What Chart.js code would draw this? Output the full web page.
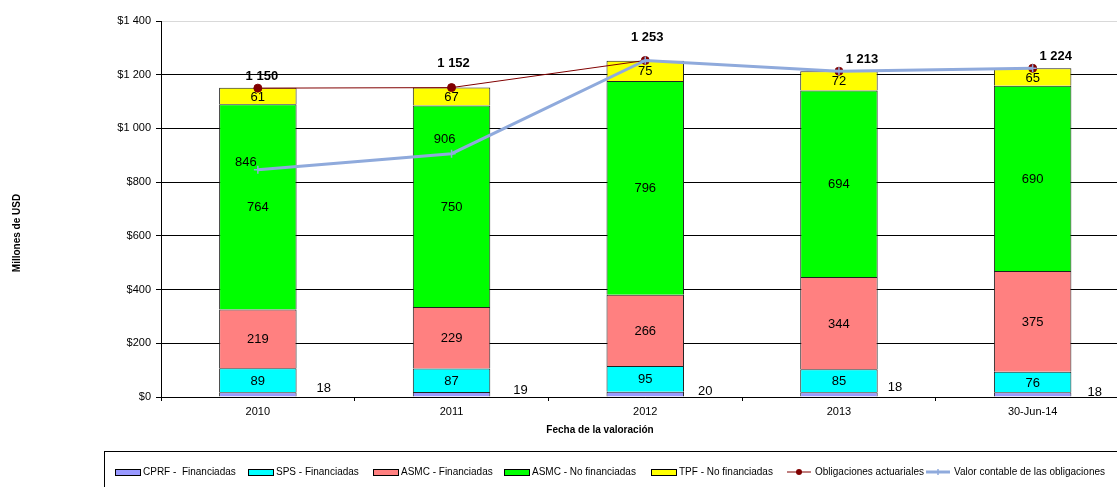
<!DOCTYPE html>
<html>
<head>
<meta charset="utf-8">
<script src="https://cdn.jsdelivr.net/npm/chart.js@4.4.1/dist/chart.umd.min.js"></script>
<style>
  html, body { margin: 0; padding: 0; background: #fff; overflow: hidden; }
  /* the original plot runs a little past the right edge of the window */
  #wrap { width: 1135px; height: 487px; }
</style>
</head>
<body>
<div id="wrap"><canvas id="chart"></canvas></div>
<script>
// valuation dates
const categories = ['2010', '2011', '2012', '2013', '30-Jun-14'];

// stacked components (millions USD)
const cprfFin = [18, 19, 20, 18, 18];
const spsFin = [89, 87, 95, 85, 76];
const asmcFin = [219, 229, 266, 344, 375];
const asmcNoFin = [764, 750, 796, 694, 690];
const tpfNoFin = [61, 67, 75, 72, 65];

// lines
const obligaciones = [1150, 1152, 1253, 1213, 1224];
const valorContable = [846, 906, 1253, 1213, 1224];
const valorLabels = ['846', '906', null, null, null];

const yTicks = [0, 200, 400, 600, 800, 1000, 1200, 1400];

const FONT = "'Liberation Sans', Arial, sans-serif";

function fmt(v) {
  // thousands separated by a space, like "1 150"
  return String(v).replace(/\B(?=(\d{3})+(?!\d))/g, ' ');
}

// labels on the segments / points
const labelPlugin = {
  id: 'valueLabels',
  afterDatasetsDraw(chart) {
    const ctx = chart.ctx;
    const yBase = chart.scales.y.getPixelForValue(0);
    ctx.save();
    ctx.fillStyle = '#000';
    ctx.textAlign = 'center';
    ctx.textBaseline = 'middle';
    ctx.font = '13px ' + FONT;

    // tiny CPRF segment: value sits beside the bar (as placed in the original)
    const cprfOff = [[66, -9], [69, -7], [60, -6], [56, -10], [62, -5]];

    for (let d = 0; d < 5; d++) {
      const meta = chart.getDatasetMeta(d);
      const vals = chart.data.datasets[d].data;
      meta.data.forEach((bar, i) => {
        if (d === 0) {
          ctx.fillText(vals[i], bar.x + cprfOff[i][0], yBase + cprfOff[i][1]);
        } else {
          ctx.fillText(vals[i], bar.x, (bar.y + bar.base) / 2 + 1);
        }
      });
    }

    // Obligaciones actuariales, bold, above the points
    const oblOff = [[4, -12], [2, -24], [2, -23], [23, -12], [23, -12]];
    ctx.font = 'bold 13px ' + FONT;
    chart.getDatasetMeta(5).data.forEach((pt, i) => {
      ctx.fillText(fmt(obligaciones[i]), pt.x + oblOff[i][0], pt.y + oblOff[i][1]);
    });

    // Valor contable
    const valOff = [[-12, -7], [-7, -14]];
    ctx.font = '13px ' + FONT;
    chart.getDatasetMeta(6).data.forEach((pt, i) => {
      if (!valorLabels[i]) return;
      ctx.fillText(valorLabels[i], pt.x + valOff[i][0], pt.y + valOff[i][1]);
    });
    ctx.restore();
  }
};

// axis titles + boxed legend along the bottom
const extrasPlugin = {
  id: 'extras',
  afterDraw(chart) {
    const ctx = chart.ctx;
    ctx.save();
    ctx.fillStyle = '#000';
    ctx.font = 'bold 10px ' + FONT;
    ctx.textAlign = 'center';
    ctx.textBaseline = 'middle';
    ctx.fillText('Fecha de la valoración', 600, 430);

    ctx.translate(17, 233);
    ctx.rotate(-Math.PI / 2);
    ctx.fillText('Millones de USD', 0, 0);
    ctx.restore();

    // legend
    const itemX = [115, 248, 373, 504, 651, 787, 926];
    ctx.save();
    ctx.strokeStyle = '#000';
    ctx.lineWidth = 1;
    ctx.strokeRect(104.5, 451.5, 1100, 60);
    ctx.font = '10px ' + FONT;
    ctx.textBaseline = 'middle';
    ctx.textAlign = 'left';
    const y = 472;
    chart.data.datasets.forEach((ds, k) => {
      const x = itemX[k];
      if (ds.type === 'line') {
        ctx.strokeStyle = ds.borderColor;
        ctx.lineWidth = ds.borderWidth;
        ctx.beginPath();
        ctx.moveTo(x, y);
        ctx.lineTo(x + 24, y);
        ctx.stroke();
        if (ds.pointStyle === 'circle') {
          ctx.fillStyle = ds.pointBackgroundColor;
          ctx.beginPath();
          ctx.arc(x + 12, y, 3, 0, Math.PI * 2);
          ctx.fill();
        } else {
          ctx.lineWidth = 1.5;
          ctx.beginPath();
          ctx.moveTo(x + 12, y - 3);
          ctx.lineTo(x + 12, y + 3);
          ctx.stroke();
        }
      } else {
        ctx.fillStyle = ds.backgroundColor;
        ctx.fillRect(x, y - 3, 25, 6);
        ctx.strokeStyle = '#000';
        ctx.lineWidth = 1;
        ctx.strokeRect(x + 0.5, y - 2.5, 25, 6);
      }
      ctx.fillStyle = '#000';
      ctx.fillText(ds.label, x + 28, y);
    });
    ctx.restore();
  }
};

const barStyle = { borderColor: '#222', borderWidth: 1, order: 3, barPercentage: 0.4, categoryPercentage: 1 };

new Chart(document.getElementById('chart'), {
  data: {
    labels: categories,
    datasets: [
      Object.assign({ type: 'bar', label: 'CPRF -  Financiadas', data: cprfFin, backgroundColor: '#9999ff' }, barStyle),
      Object.assign({ type: 'bar', label: 'SPS - Financiadas', data: spsFin, backgroundColor: '#00ffff' }, barStyle),
      Object.assign({ type: 'bar', label: 'ASMC - Financiadas', data: asmcFin, backgroundColor: '#ff8080' }, barStyle),
      Object.assign({ type: 'bar', label: 'ASMC - No financiadas', data: asmcNoFin, backgroundColor: '#00ff00' }, barStyle),
      Object.assign({ type: 'bar', label: 'TPF - No financiadas', data: tpfNoFin, backgroundColor: '#ffff00' }, barStyle),
      {
        type: 'line', label: 'Obligaciones actuariales', data: obligaciones, stack: 'obl', order: 2,
        borderColor: '#800000', borderWidth: 1, tension: 0,
        pointStyle: 'circle', pointRadius: 4, pointBackgroundColor: '#800000', pointBorderColor: '#800000'
      },
      {
        type: 'line', label: 'Valor contable de las obligaciones', data: valorContable, stack: 'val', order: 1,
        borderColor: '#8faadc', borderWidth: 3, tension: 0,
        pointStyle: 'cross', pointRadius: 4, pointBorderWidth: 1.5, pointBorderColor: '#8faadc'
      }
    ]
  },
  options: {
    responsive: true,
    maintainAspectRatio: false,
    animation: false,
    layout: { padding: { top: 21, left: 0, right: 4, bottom: 0 } },
    plugins: {
      legend: { display: false },
      tooltip: { enabled: false }
    },
    scales: {
      x: {
        stacked: true,
        afterFit: s => { s.height = 90; },
        grid: { offset: true, drawOnChartArea: false, tickLength: 4, color: '#000' },
        border: { color: '#000', width: 1 },
        ticks: { color: '#000', font: { family: FONT, size: 11 }, padding: 4, maxRotation: 0 }
      },
      y: {
        stacked: true,
        min: 0,
        max: 1400,
        afterFit: s => { s.width = 161; },
        afterBuildTicks: s => { s.ticks = yTicks.map(v => ({ value: v })); },
        grid: {
          color: c => (c.tick && c.tick.value === 1400 ? '#d9d9d9' : '#000'),
          tickColor: '#000',
          tickLength: 5
        },
        border: { color: '#000', width: 1 },
        ticks: {
          color: '#000',
          padding: 5,
          font: { family: FONT, size: 11 },
          callback: v => '$' + fmt(v)
        }
      }
    }
  },
  plugins: [labelPlugin, extrasPlugin]
});
</script>
</body>
</html>
